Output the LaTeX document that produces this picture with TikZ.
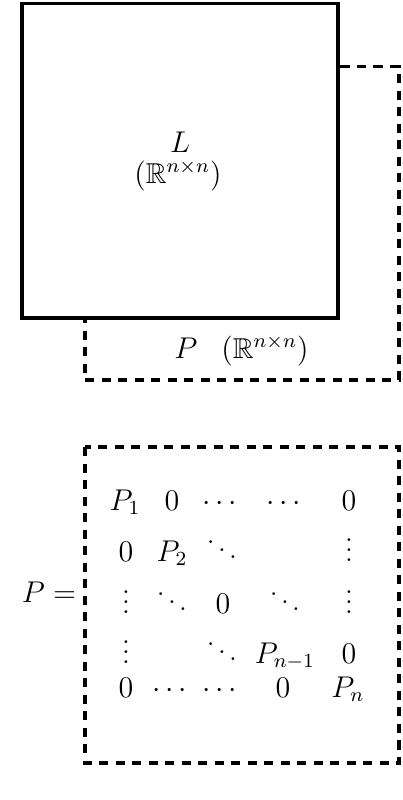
\documentclass[tikz,border=0pt]{standalone}
\usepackage{amsmath,amssymb}
\tikzset{
  solidbox/.style={line width=1.25pt, fill=white},
  dashbox/.style={line width=1.25pt, dash pattern=on 3.7pt off 2.9pt},
  lbl/.style={anchor=base, inner sep=0pt, outer sep=0pt, font=\fontsize{11.5}{14}\selectfont},
}
\begin{document}
\begin{tikzpicture}[x=0.4pt, y=-0.4pt]
\useasboundingbox (0,0) rectangle (402,800);
% overlapping boxes
\draw[dashbox] (85,66.7) rectangle (399,380);
\draw[solidbox] (22,3.5) rectangle (338,318);
\node[lbl] (Ltxt) at (180,152) {$L$};
\node[lbl] (Lsp) at (178,183) {$(\mathbb{R}^{n\times n})$};
\node[lbl] (Ptxt) at (186,358) {$P$};
\node[lbl] (Psp) at (265,358) {$(\mathbb{R}^{n\times n})$};
% matrix box
\draw[dashbox] (85,447) rectangle (399,763);
\node[lbl, anchor=base east] (Peq) at (76,602) {$P =$};
% row 1
\node[lbl] (m11) at (125,510) {$P_1$};
\node[lbl] (m12) at (172,510) {$0$};
\node[lbl] (m13) at (222,510) {$\cdots$};
\node[lbl] (m14) at (286,510) {$\cdots$};
\node[lbl] (m15) at (349,510) {$0$};
% row 2
\node[lbl] (m21) at (126,561) {$0$};
\node[lbl] (m22) at (172,561) {$P_2$};
\node[lbl] (m23) at (222,561) {$\ddots$};
\node[lbl] (m25) at (349,561) {$\vdots$};
% row 3
\node[lbl] (m31) at (126,613) {$\vdots$};
\node[lbl] (m32) at (172,613) {$\ddots$};
\node[lbl] (m33) at (223,613) {$0$};
\node[lbl] (m34) at (285,613) {$\ddots$};
\node[lbl] (m35) at (349,613) {$\vdots$};
% row 4
\node[lbl] (m41) at (126,663) {$\vdots$};
\node[lbl] (m43) at (222,663) {$\ddots$};
\node[lbl] (m44) at (285,663) {$P_{n-1}$};
\node[lbl] (m45) at (349,663) {$0$};
% row 5
\node[lbl] (m51) at (126,697) {$0$};
\node[lbl] (m52) at (172,697) {$\cdots$};
\node[lbl] (m53) at (222,697) {$\cdots$};
\node[lbl] (m54) at (283,697) {$0$};
\node[lbl] (m55) at (348,697) {$P_n$};
\end{tikzpicture}
\end{document}
